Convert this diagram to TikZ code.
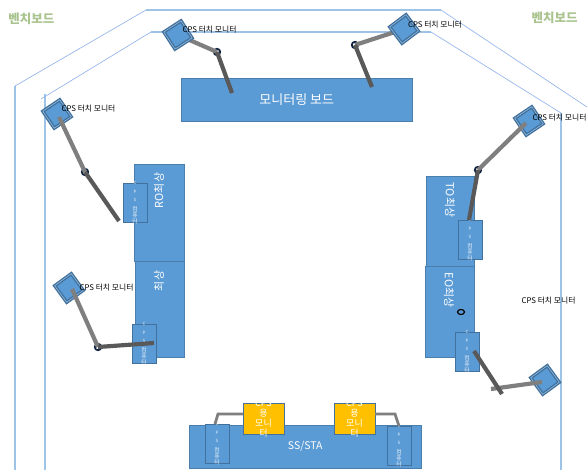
\documentclass[tikz,border=0pt]{standalone}
\usepackage{fontspec}
\setmainfont{Noto Sans CJK KR}
\usetikzlibrary{shapes.geometric}
\definecolor{cBlue}{RGB}{91,155,213}
\definecolor{cEdge}{RGB}{65,113,156}
\definecolor{cLine}{RGB}{157,195,230}
\definecolor{cGold}{RGB}{255,192,0}
\definecolor{cGreen}{RGB}{169,196,143}
\definecolor{cArm}{RGB}{127,127,127}
\definecolor{cArmDark}{RGB}{89,89,89}
\definecolor{cJoint}{RGB}{15,35,65}
\newcommand{\cpsletter}[1]{{\fontsize{4.4}{4.6}\selectfont #1}}
\newcommand{\cpsstack}{\cpsletter{C}\\[2.2pt]\cpsletter{P}\\[2.2pt]\cpsletter{S}\\[3.6pt]컴\\[0pt]퓨\\[0pt]터}
\begin{document}
\begin{tikzpicture}[x=1pt, y=-1pt,
            wall/.style={draw=cLine!90!blue, line width=0.6pt},
            wallb/.style={draw=cLine, line width=1.2pt},
            desk/.style={draw=cEdge!70!cBlue, fill=cBlue, line width=0.5pt, inner sep=0pt, text=white, anchor=north west},
            cpsbox/.style={draw=cEdge, fill=cBlue, line width=0.5pt, anchor=north west, inner sep=0pt, minimum width=23.5pt, minimum height=39pt},
            cpstxt/.style={align=center, text=white!85!cBlue, font=\fontsize{5.8}{6.2}\selectfont, inner sep=0pt},
            usemon/.style={draw=cEdge, fill=cGold, line width=0.5pt, anchor=north west, inner sep=0pt, minimum width=40.5pt, minimum height=31pt},
            usetxt/.style={align=center, text=white, font=\fontsize{9}{10}\selectfont, inner sep=0pt},
            screen/.style={draw=cEdge, double=cLine, double distance=0.5pt, line width=1.4pt, fill=cBlue, minimum size=20.5pt, inner sep=0pt},
            arm/.style={draw=cArm, line width=4.2pt},
            armd/.style={draw=cArmDark, line width=4.2pt},
            joint/.style={circle, draw=cJoint, fill=white, line width=1.7pt, minimum size=6.5pt, inner sep=0pt},
            tag/.style={font=\fontsize{7.8}{8}\selectfont, inner sep=0pt, text=black},
            bench/.style={font=\fontsize{12.5}{13}\selectfont\bfseries, text=cGreen, inner sep=0pt},
            desktxt/.style={text=white, font=\fontsize{11}{12}\selectfont, inner sep=0pt}]
            \useasboundingbox (0,0) rectangle (587,470);
            \fill[white] (0,0) rectangle (587,470);
            % outline of the bench
            \coordinate (o1) at (15,470);  \coordinate (o2) at (15,86);
            \coordinate (o3) at (146,10);  \coordinate (o4) at (441,10);
            \coordinate (o5) at (587,107);
            \coordinate (i1) at (45,470);  \coordinate (i2) at (45,94);
            \coordinate (i3) at (41,99);   \coordinate (i4) at (151,32);
            \coordinate (i5) at (431,32);  \coordinate (i6) at (561,113);
            \coordinate (i7) at (561,470);
            \draw[wallb] (o1)--(o2) (o3)--(o4) (i1)--(i2) (i4)--(i5) (i6)--(i7);
            \draw[wall] (o2)--(o3) (o4)--(o5) (i3)--(i4) (i5)--(i6);
            \node[bench] (benchL) at (31.5,19) {벤치보드};
            \node[bench] (benchR) at (554.5,18) {벤치보드};
            % desks
            \node[desk, minimum width=231pt, minimum height=43pt, font=\fontsize{13}{14}\selectfont] (board) at (181,78) {모니터링 보드};
            \node[desk, minimum width=50pt, minimum height=97pt] (ro) at (134,164) {};
            \node[desk, minimum width=49pt, minimum height=96pt] (top) at (135,261) {};
            \node[desk, minimum width=48pt, minimum height=90pt] (to) at (426,176) {};
            \node[desk, minimum width=49pt, minimum height=91pt] (eo) at (425,266) {};
            \node[desk, minimum width=232pt, minimum height=43pt, font=\fontsize{10.5}{12}\selectfont] (ss) at (189,425) {SS/STA};
            \node[desktxt, rotate=90] (roT) at (159,190.5) {RO최상};
            \node[desktxt, rotate=90] (topT) at (159,281) {최상};
            \node[desktxt, rotate=-90] (toT) at (450,200) {TO최상};
            \node[desktxt, rotate=-90] (eoT) at (449,290) {EO최상};
            % computers
            \foreach \n/\x/\y in {c1/123/183, c2/132/324, c3/458/220, c4/455/332, c5/205/424, c6/387/426} {
                \node[cpsbox] (\n) at (\x,\y) {};
                \node[cpstxt] at (\n.center) {\cpsstack};
            }
            % monitors on the desk
            \node[usemon] (u1) at (243,403) {};
            \node[usemon] (u2) at (334,403) {};
            \foreach \n in {u1,u2} { \node[usetxt] at (\n.center) {CPS\\용\\모니\\터}; }
            \coordinate (b1) at (218,414); \coordinate (b2) at (215,424);
            \coordinate (b3) at (395,414); \coordinate (b4) at (399,426);
            \draw[arm, line width=2.8pt] (u1.west |- b1)--(b1)--(b2);
            \draw[arm, line width=2.8pt] (u2.east |- b3)--(b3)--(b4);
            % touch monitors
            \coordinate (e1) at (232,93);  \coordinate (e2) at (372,87);
            \coordinate (e3) at (119,221); \coordinate (e4) at (469,220);
            \coordinate (e5) at (154,343); \coordinate (e6) at (474,351);
            \coordinate (k6) at (491,389); \coordinate (f6) at (502,394);
            \node[joint] (j1) at (217,52) {};
            \node[joint] (j2) at (355,45) {};
            \node[joint] (j3) at (85,172) {};
            \node[joint] (j4) at (478,170) {};
            \node[joint] (j5) at (98,347) {};
            \draw[arm] (178,35) coordinate (m1)--(j1.center);
            \draw[arm] (404,29) coordinate (m2)--(j2.center);
            \node[screen, rotate=33] (s1) at (m1) {};
            \node[screen, rotate=37] (s2) at (m2) {};
            \node[screen, rotate=34] (s3) at (57,114) {};
            \node[screen, rotate=34] (s4) at (529,121) {};
            \node[screen, rotate=36] (s5) at (69,288) {};
            \node[screen, rotate=36] (s6) at (545,380) {};
            \draw[arm] (59,117)--(j3.center);
            \draw[arm] (526,123)--(j4.center);
            \draw[arm] (72,289)--(j5.center);
            \draw[arm] (542,382)--(k6);
            \foreach \a/\b in {j1/e1, j2/e2, j3/e3, j4/e4, j5/e5} { \draw[armd] (\a.center)--(\b); }
            \draw[armd] (e6)--(f6);
            % free joint on the EO desk
            \node[ellipse, draw=black, line width=1.2pt, minimum width=7pt, minimum height=5pt, inner sep=0pt] (j6) at (461,312) {};
            % labels
            \foreach \n/\x/\y in {t1/209.5/30, t2/435/25, t3/88.5/109, t4/559.5/118, t5/106.5/288, t6/548.5/301} {
                \node[tag] (\n) at (\x,\y) {CPS 터치 모니터};
            }
\end{tikzpicture}
\end{document}
